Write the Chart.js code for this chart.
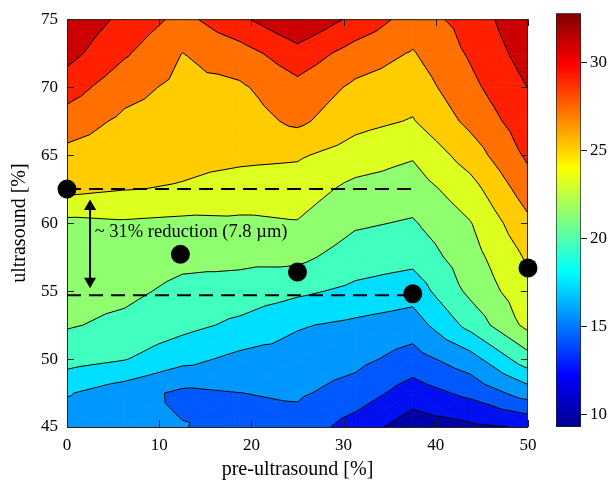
<!DOCTYPE html>
<html>
<head>
<meta charset="utf-8">
<script src="https://cdn.jsdelivr.net/npm/chart.js@4.4.1/dist/chart.umd.min.js"></script>
<style>
  body { margin: 0; background: #fff; }
  #wrap { position: relative; width: 615px; height: 483px; }
  #main { position: absolute; left: 0; top: 0; }
  #cbar { position: absolute; left: 540px; top: 0; }
</style>
</head>
<body>
<div id="wrap">
  <canvas id="main" width="615" height="483"></canvas>
  <canvas id="cbar" width="75" height="483"></canvas>
</div>
<script>
// grid of the contour map (pre-ultrasound %, ultrasound %)
const gridX = [0, 6.25, 12.5, 18.75, 25, 31.25, 37.5, 43.75, 50];
const gridY = [45, 47.5, 50, 52.5, 55, 57.5, 60, 62.5, 65, 67.5, 70, 72.5, 75];

// values at the grid nodes, one row per ultrasound level
const row45   = [16.0, 15.5, 15.1, 14.2, 14.2, 12.1, 9.9, 10.6, 11.2];
const row47_5 = [17.15, 15.9, 14.6, 14.98, 15.29, 14.14, 12.0, 13.5, 15.96];
const row50   = [19.8, 19.1, 17.62, 16.48, 16.18, 15.58, 14.18, 16.21, 20.18];
const row52_5 = [21.17, 20.56, 19.59, 18.57, 17.17, 16.59, 16.0, 19.66, 23.58];
const row55   = [21.74, 21.45, 20.52, 20.18, 19.4, 18.55, 17.86, 21.48, 24.39];
const row57_5 = [22.3, 22.11, 21.49, 21.49, 21.5, 20.03, 19.62, 22.2, 25.3];
const row60   = [22.5, 22.76, 22.51, 22.61, 22.89, 21.27, 20.81, 22.91, 26.56];
const row62_5 = [25.5, 25.07, 24.86, 24.24, 24.0, 22.43, 21.98, 24.22, 28.08];
const row65   = [26.43, 25.82, 25.48, 25.4, 25.24, 24.12, 23.2, 25.96, 29.37];
const row67_5 = [28.06, 26.58, 25.98, 26.06, 27.42, 25.61, 24.87, 27.51, 30.21];
const row70   = [29.95, 27.71, 26.48, 26.72, 28.42, 26.63, 25.88, 28.49, 31.05];
const row72_5 = [31.7, 29.26, 26.98, 28.16, 30.27, 28.14, 26.85, 29.25, 31.9];
const row75   = [32.6, 30.5, 28.4, 30.6, 32.9, 30.5, 28.15, 29.7, 32.8];
const zRows = [row45, row47_5, row50, row52_5, row55, row57_5, row60, row62_5, row65, row67_5, row70, row72_5, row75];

// contour levels and the fill of each band (lowest band first)
const levels = [11, 13, 15, 17, 19, 21, 23, 25, 27, 29, 31];
const bandColors = ['#0000a8', '#0010f0', '#0058ff', '#0098ff', '#00deff', '#40ffbf',
                    '#8fff70', '#ddff20', '#ffcc00', '#ff7000', '#ff2000', '#cc0000'];

// optimum points
const optX = [0, 12.3, 25, 37.5, 50];
const optY = [62.5, 57.7, 56.4, 54.8, 56.7];

// dashed reference lines and the arrow
const dashX = [0, 37.5];
const dashTopY = [62.5, 62.5];
const dashLowY = [54.7, 54.7];
const arrowX = [2.5, 2.5];
const arrowY = [61.23, 55.72];
const noteText = '~ 31% reduction (7.8 µm)';
const noteX = 3.0, noteY = 59.35;

// colour bar
const cbMin = 9.3, cbMax = 32.8;
const cbTicks = [10, 15, 20, 25, 30];

const serif = 'Liberation Serif';
Chart.defaults.color = '#000';
Chart.defaults.font.family = serif;

const pts = (xs, ys) => xs.map((v, i) => ({x: v, y: ys[i]}));

function clipPoly(poly, L, sign) {
  const out = [];
  for (let n = 0; n < poly.length; n++) {
    const p = poly[n], q = poly[(n + 1) % poly.length];
    const fp = sign * (p.z - L), fq = sign * (q.z - L);
    if (fp >= 0) out.push(p);
    if ((fp < 0 && fq > 0) || (fp > 0 && fq < 0)) {
      const s = fp / (fp - fq);
      out.push({px: p.px + s * (q.px - p.px), py: p.py + s * (q.py - p.py), z: p.z + s * (q.z - p.z)});
    }
  }
  return out;
}

const contourPlugin = {
  id: 'contour',
  beforeDatasetsDraw(chart) {
    const {ctx, chartArea: a, scales: {x, y}} = chart;
    const node = (i, j) => ({px: x.getPixelForValue(gridX[i]), py: y.getPixelForValue(gridY[j]), z: zRows[j][i]});
    const tris = [];
    for (let j = 0; j < gridY.length - 1; j++) {
      for (let i = 0; i < gridX.length - 1; i++) {
        const p0 = node(i, j), p1 = node(i + 1, j), p2 = node(i + 1, j + 1), p3 = node(i, j + 1);
        const m = {px: (p0.px + p2.px) / 2, py: (p0.py + p2.py) / 2, z: (p0.z + p1.z + p2.z + p3.z) / 4};
        tris.push([p0, p1, m], [p1, p2, m], [p2, p3, m], [p3, p0, m]);
      }
    }
    ctx.save();
    ctx.beginPath();
    ctx.rect(a.left, a.top, a.width, a.height);
    ctx.clip();
    // filled bands
    tris.forEach(t => {
      for (let k = 0; k < bandColors.length; k++) {
        const lo = k === 0 ? -1e9 : levels[k - 1];
        const hi = k === levels.length ? 1e9 : levels[k];
        let poly = clipPoly(t, lo, 1);
        if (poly.length < 3) continue;
        poly = clipPoly(poly, hi, -1);
        if (poly.length < 3) continue;
        ctx.beginPath();
        poly.forEach((q, n) => n ? ctx.lineTo(q.px, q.py) : ctx.moveTo(q.px, q.py));
        ctx.closePath();
        ctx.fillStyle = bandColors[k];
        ctx.strokeStyle = bandColors[k];
        ctx.lineWidth = 0.8;
        ctx.fill();
        ctx.stroke();
      }
    });
    // contour lines
    ctx.beginPath();
    tris.forEach(t => levels.forEach(L => {
      const cut = [];
      for (let e = 0; e < 3; e++) {
        const p = t[e], q = t[(e + 1) % 3];
        if ((p.z - L) * (q.z - L) < 0) {
          const s = (L - p.z) / (q.z - p.z);
          cut.push([p.px + s * (q.px - p.px), p.py + s * (q.py - p.py)]);
        }
      }
      if (cut.length === 2) {
        ctx.moveTo(cut[0][0], cut[0][1]);
        ctx.lineTo(cut[1][0], cut[1][1]);
      }
    }));
    ctx.strokeStyle = '#000';
    ctx.lineWidth = 1;
    ctx.stroke();
    ctx.restore();

    // axes box with inward ticks
    ctx.save();
    ctx.strokeStyle = '#222';
    ctx.lineWidth = 1;
    ctx.strokeRect(a.left + 0.5, a.top + 0.5, a.width - 1, a.height);
    ctx.beginPath();
    x.ticks.forEach(t => {
      const px = Math.round(x.getPixelForValue(t.value)) + 0.5;
      ctx.moveTo(px, a.bottom); ctx.lineTo(px, a.bottom - 7);
      ctx.moveTo(px, a.top); ctx.lineTo(px, a.top + 7);
    });
    y.ticks.forEach(t => {
      const py = Math.round(y.getPixelForValue(t.value)) + 0.5;
      ctx.moveTo(a.left, py); ctx.lineTo(a.left + 7, py);
      ctx.moveTo(a.right, py); ctx.lineTo(a.right - 7, py);
    });
    ctx.stroke();
    // annotation
    ctx.fillStyle = '#000';
    ctx.font = '18.5px ' + serif;
    ctx.textAlign = 'left';
    ctx.textBaseline = 'middle';
    ctx.fillText(noteText, x.getPixelForValue(noteX), y.getPixelForValue(noteY));
    ctx.restore();
  }
};

new Chart(document.getElementById('main'), {
  type: 'scatter',
  data: {
    datasets: [
      {data: pts(dashX, dashTopY), showLine: true, borderColor: '#000', borderWidth: 2,
       borderDash: [14, 8], pointRadius: 0, clip: false},
      {data: pts(dashX, dashLowY), showLine: true, borderColor: '#000', borderWidth: 2,
       borderDash: [14, 8], pointRadius: 0, clip: false},
      {data: pts(arrowX, arrowY), showLine: true, borderColor: '#000', borderWidth: 2,
       pointStyle: 'triangle', pointRadius: 7, pointRotation: [0, 180],
       pointBackgroundColor: '#000', pointBorderColor: '#000', pointBorderWidth: 0, clip: false},
      {data: pts(optX, optY), pointRadius: 9.5, pointBackgroundColor: '#000',
       pointBorderWidth: 0, clip: false}
    ]
  },
  options: {
    responsive: false,
    animation: false,
    layout: {padding: {top: 12, right: 87, left: 0, bottom: 0}},
    plugins: {legend: {display: false}, tooltip: {enabled: false}},
    scales: {
      x: {
        type: 'linear', min: 0, max: 50,
        ticks: {stepSize: 10, padding: 8, font: {size: 17}},
        grid: {display: false, drawTicks: false},
        border: {display: false},
        title: {display: true, text: 'pre-ultrasound [%]', font: {size: 20}, padding: {top: 0, bottom: 1}},
        afterFit: s => { s.height = 56; }
      },
      y: {
        type: 'linear', min: 45, max: 75,
        ticks: {stepSize: 5, padding: 9, font: {size: 17}},
        grid: {display: false, drawTicks: false},
        border: {display: false},
        title: {display: true, text: 'ultrasound [%]', font: {size: 20}, padding: {top: 8, bottom: 0}},
        afterFit: s => { s.width = 67; }
      }
    }
  },
  plugins: [contourPlugin]
});

const jetStops = [[0, '#00008f'], [0.125, '#0000ff'], [0.375, '#00ffff'],
                  [0.625, '#ffff00'], [0.875, '#ff0000'], [1, '#800000']];

new Chart(document.getElementById('cbar'), {
  type: 'bar',
  data: {
    labels: [''],
    datasets: [{
      data: [[cbMin, cbMax]],
      barPercentage: 1, categoryPercentage: 1,
      borderColor: '#222', borderWidth: 1, borderSkipped: false,
      backgroundColor(c) {
        const ch = c.chart;
        if (!ch.chartArea) return '#888';
        const s = ch.scales.y;
        const g = ch.ctx.createLinearGradient(0, s.getPixelForValue(cbMin), 0, s.getPixelForValue(cbMax));
        jetStops.forEach(([t, col]) => g.addColorStop(t, col));
        return g;
      }
    }]
  },
  options: {
    responsive: false,
    animation: false,
    layout: {padding: {top: 13, left: 16, bottom: 56, right: 0}},
    plugins: {legend: {display: false}, tooltip: {enabled: false}},
    scales: {
      x: {display: false},
      y: {
        position: 'right', min: cbMin, max: cbMax,
        afterBuildTicks: s => { s.ticks = cbTicks.map(v => ({value: v})); },
        ticks: {padding: 3, font: {size: 17}},
        grid: {drawOnChartArea: false, drawTicks: true, tickLength: 6, color: '#222'},
        border: {display: false},
        afterFit: s => { s.width = 34; }
      }
    }
  }
});
</script>
</body>
</html>
